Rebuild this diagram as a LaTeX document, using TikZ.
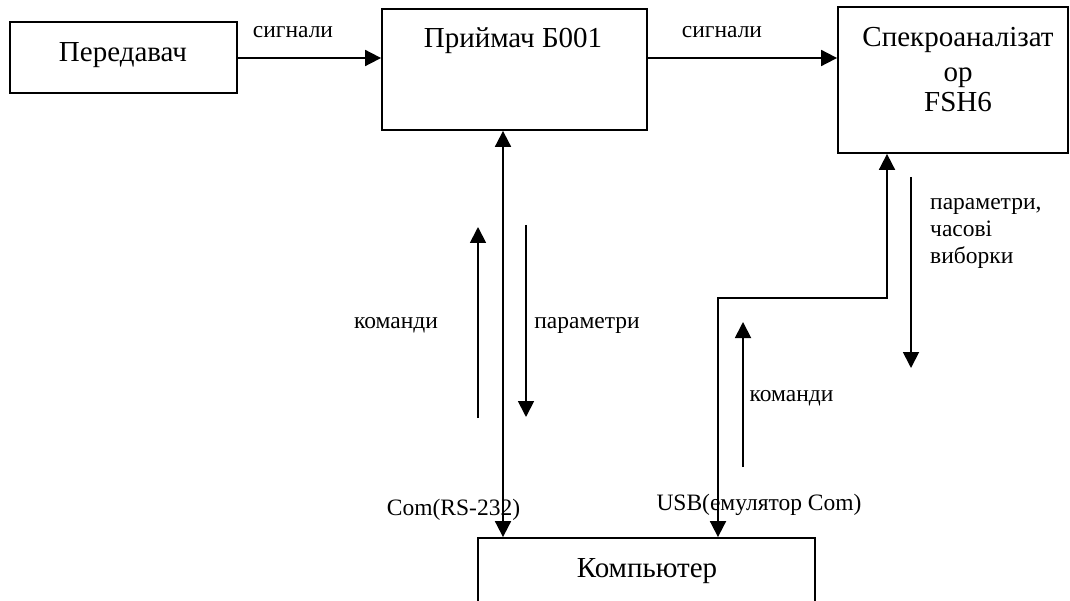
\documentclass[tikz,border=0pt]{standalone}
\usepackage{fontspec}
\setmainfont{Liberation Serif}
\usetikzlibrary{arrows.meta}

\tikzset{
  box/.style={draw, line width=1.8pt, inner sep=0pt, fill=none},
  title/.style={inner sep=0pt, anchor=base, font=\fontsize{29}{31}\selectfont},
  lbl/.style={inner sep=0pt, anchor=base, font=\fontsize{23.5}{27}\selectfont},
  tip/.style={Triangle[length=16pt,width=16pt]},
  link/.style={line width=1.8pt, -{Triangle[length=16pt,width=16pt]}},
  duplex/.style={line width=1.8pt, {Triangle[length=16pt,width=16pt]}-{Triangle[length=16pt,width=16pt]}}
}

\begin{document}
\begin{tikzpicture}[x=1pt,y=-1pt]
  \clip (0,0) rectangle (1070,601);
  \fill[white] (0,0) rectangle (1070,601);

  % blocks
  \node[box, minimum width=227pt, minimum height=71pt]  (pered) at (123.5,57.5) {};
  \node[box, minimum width=265pt, minimum height=121pt] (pr)    at (514.5,69.5) {};
  \node[box, minimum width=230pt, minimum height=146pt] (spec)  at (953,80)     {};
  \node[box, minimum width=337pt, minimum height=112pt] (comp)  at (646.5,594)  {};

  % block titles
  \node[title] (peredT) at (123,62) {Передавач};
  \node[title] (prT)    at (513,48) {Приймач Б001};
  \node[title] (specT1) at (958,47) {Спекроаналізат};
  \node[title] (specT2) at (958,82) {ор};
  \node[title] (specT3) at (958,112) {FSH6};
  \node[title] (compT)  at (647,577) {Компьютер};

  % guide coordinates
  \coordinate (sigrow) at (0,58);
  \coordinate (comX)   at (503,0);
  \coordinate (usbX)   at (718,0);
  \coordinate (usbRow) at (0,298);
  \coordinate (specX)  at (887,0);

  % signal path
  \draw[link] (pered.east |- sigrow) -- (pr.west |- sigrow);
  \draw[link] (pr.east |- sigrow) -- (spec.west |- sigrow);
  \node[lbl] (sig1) at (293,38) {сигнали};
  \node[lbl] (sig2) at (722,38) {сигнали};

  % serial link receiver <-> computer
  \draw[duplex] (pr.south -| comX) -- (comp.north -| comX);
  \node[lbl] (rs) at (453.5,515) {Com(RS-232)};

  % USB link analyser <-> computer
  \draw[duplex] (spec.south -| specX) -- (specX |- usbRow) -- (usbX |- usbRow) -- (comp.north -| usbX);
  \node[lbl] (usb) at (759,510) {USB(емулятор Com)};

  % data-flow indicators, left link
  \coordinate (cmdA) at (478,418);
  \coordinate (cmdB) at (478,227);
  \coordinate (parA) at (526,225);
  \coordinate (parB) at (526,417);
  \draw[link] (cmdA) -- (cmdB);
  \draw[link] (parA) -- (parB);
  \node[lbl] (cmd1) at (396,328) {команди};
  \node[lbl] (par1) at (587,328) {параметри};

  % data-flow indicators, right link
  \coordinate (cmdC) at (743,467);
  \coordinate (cmdD) at (743,322);
  \coordinate (parC) at (911,177);
  \coordinate (parD) at (911,368);
  \draw[link] (cmdC) -- (cmdD);
  \draw[link] (parC) -- (parD);
  \node[lbl] (cmd2) at (791.5,401) {команди};
  \node[lbl, anchor=base west] (par2a) at (930,210) {параметри,};
  \node[lbl, anchor=base west] (par2b) at (930,237) {часові};
  \node[lbl, anchor=base west] (par2c) at (930,264) {виборки};
\end{tikzpicture}
\end{document}
